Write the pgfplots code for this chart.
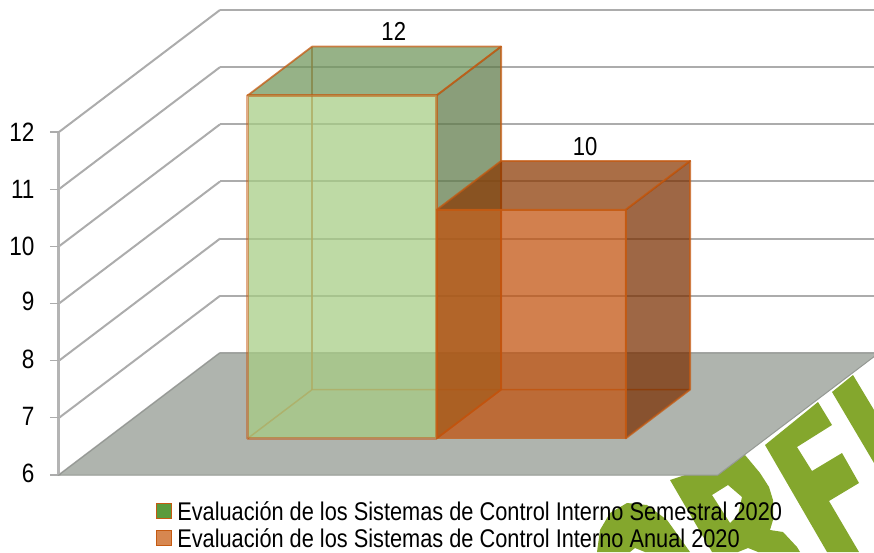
\documentclass[border=0pt]{standalone}
\usepackage{pgfplots}
\pgfplotsset{compat=1.18}
\usepackage{fontspec}
\setmainfont[FakeStretch=0.85]{Liberation Sans}
\definecolor{wm}{RGB}{132,167,45}
\definecolor{floorc}{RGB}{175,180,174}
\definecolor{gridc}{RGB}{172,172,172}
\definecolor{edgeo}{RGB}{197,90,17}
\definecolor{gf}{RGB}{166,204,131}
\definecolor{gt}{RGB}{111,149,90}
\definecolor{gs}{RGB}{94,122,72}
\definecolor{of}{RGB}{193,81,12}
\definecolor{ot}{RGB}{138,56,1}
\definecolor{os}{RGB}{122,46,0}
\pgfplotsset{
  face/.style={forget plot,fill=#1,fill opacity=0.73,draw=edgeo,draw opacity=0.75,line width=1.8pt,line join=round},
  back/.style={forget plot,draw=edgeo,draw opacity=0.8,line width=1.5pt}
}
\begin{document}
\begin{tikzpicture}
\useasboundingbox (0,0) rectangle (874pt,552pt);
\clip (0,0) rectangle (874pt,552pt);
\begin{scope}[x=1pt,y=-1pt,shift={(0pt,552pt)}]
\fill[wm] (765,445)--(818,402)--(832,425)--(797,447)--(812,471)--(842,453)--(859,483)--(829,501)--(859,552)--(827,552)--cycle;
\fill[wm] (832,392)--(853,375)--(874,410)--(874,463)--cycle;
\fill[wm,even odd rule] (670,480)--(745,455)--(760,473)--(769,487)--(773,500)--(773,520)--(770,530)--(783,532)--(797,547)--(800,552)--(758,552)--(748,548)--(738,552)--(712,552)--cycle
  (712,495)--(728,485)--(742,497)--(738,515)--(730,523)--cycle;
\fill[wm] (597,552)--(600,530)--(610,513)--(627,503)--(647,505)--(667,520)--(690,552)--(645,552)--(635,548)--(630,552)--cycle;
\end{scope}
\begin{axis}[
  at={(59pt,77pt)},anchor=south west,
  x={(189pt,0pt)},y={(161pt,122pt)},z={(0pt,57.17pt)},
  xmin=0,xmax=3.486,ymin=0,ymax=1,zmin=6,zmax=12,
  xtick=\empty,ytick=\empty,ztick={6,7,8,9,10,11,12},
  grid=major,
  major grid style={gridc,line width=2pt},
  axis line style={draw=none},
  clip=false,
  tick style={draw=none},
  tick pos=left,
  /pgf/number format/assume math mode=true,
  z tick label style={font=\fontsize{26.5}{26.5}\selectfont,text=black,xshift=-21pt,yshift=5pt},
  legend style={at={(axis cs:0.512,0,6)},anchor=north west,yshift=-25pt,draw=none,fill=none,
    font=\fontsize{25.6}{25.6}\selectfont,row sep=5pt,inner sep=0pt,
    nodes={inner sep=1pt}},
  legend cell align=left,
  legend image code/.code={\draw[#1] (0pt,-7pt) rectangle (15pt,8pt);\path (19pt,0pt);},
]
% axis wall and its tick marks
\addplot3[forget plot,draw=gridc!90,line width=3pt] coordinates {(0,0,6) (0,0,12)};
\addplot3[forget plot,draw=gridc,line width=1.2pt] coordinates {(-0.048,0,6) (0,0,6)};
\addplot3[forget plot,draw=gridc,line width=1.2pt] coordinates {(-0.048,0,7) (0,0,7)};
\addplot3[forget plot,draw=gridc,line width=1.2pt] coordinates {(-0.048,0,8) (0,0,8)};
\addplot3[forget plot,draw=gridc,line width=1.2pt] coordinates {(-0.048,0,9) (0,0,9)};
\addplot3[forget plot,draw=gridc,line width=1.2pt] coordinates {(-0.048,0,10) (0,0,10)};
\addplot3[forget plot,draw=gridc,line width=1.2pt] coordinates {(-0.048,0,11) (0,0,11)};
\addplot3[forget plot,draw=gridc,line width=1.2pt] coordinates {(-0.048,0,12) (0,0,12)};
% floor
\addplot3[forget plot,fill=floorc,draw=floorc!85!black,line width=1pt] coordinates {(0,0,6) (3.486,0,6) (3.486,1,6) (0,1,6)} -- cycle;
% bar 1 (value 12): hidden edges, then faces
\addplot3[back] coordinates {(0.743,0.7,6) (0.743,0.7,12)};
\addplot3[back] coordinates {(0.743,0.3,6) (0.743,0.7,6) (1.743,0.7,6)};
\addplot3[face=gt] coordinates {(0.743,0.3,12) (1.743,0.3,12) (1.743,0.7,12) (0.743,0.7,12)} -- cycle;
\addplot3[face=gs] coordinates {(1.743,0.3,6) (1.743,0.7,6) (1.743,0.7,12) (1.743,0.3,12)} -- cycle;
\addplot3[face=gf,draw opacity=0.5,line width=2.6pt] coordinates {(0.743,0.3,6) (1.743,0.3,6) (1.743,0.3,12) (0.743,0.3,12)} -- cycle;
% bar 2 (value 10)
\addplot3[back] coordinates {(1.743,0.7,6) (1.743,0.7,10)};
\addplot3[back] coordinates {(1.743,0.3,6) (1.743,0.7,6) (2.743,0.7,6)};
\addplot3[face=ot] coordinates {(1.743,0.3,10) (2.743,0.3,10) (2.743,0.7,10) (1.743,0.7,10)} -- cycle;
\addplot3[face=os] coordinates {(2.743,0.3,6) (2.743,0.7,6) (2.743,0.7,10) (2.743,0.3,10)} -- cycle;
\addplot3[face=of] coordinates {(1.743,0.3,6) (2.743,0.3,6) (2.743,0.3,10) (1.743,0.3,10)} -- cycle;
\node[anchor=south,font=\fontsize{26}{26}\selectfont,inner sep=5.5pt] at (axis cs:1.175,0.7,12) {12};
\node[anchor=south,font=\fontsize{26}{26}\selectfont,inner sep=5pt] at (axis cs:2.187,0.7,10) {10};
\addlegendimage{fill={rgb,255:red,90;green,155;blue,60},draw=edgeo,line width=1.3pt}
\addlegendentry{Evaluación de los Sistemas de Control Interno Semestral 2020}
\addlegendimage{fill={rgb,255:red,215;green,135;blue,80},draw=edgeo,line width=1.3pt}
\addlegendentry{Evaluación de los Sistemas de Control Interno Anual 2020}
\end{axis}
\end{tikzpicture}
\end{document}
